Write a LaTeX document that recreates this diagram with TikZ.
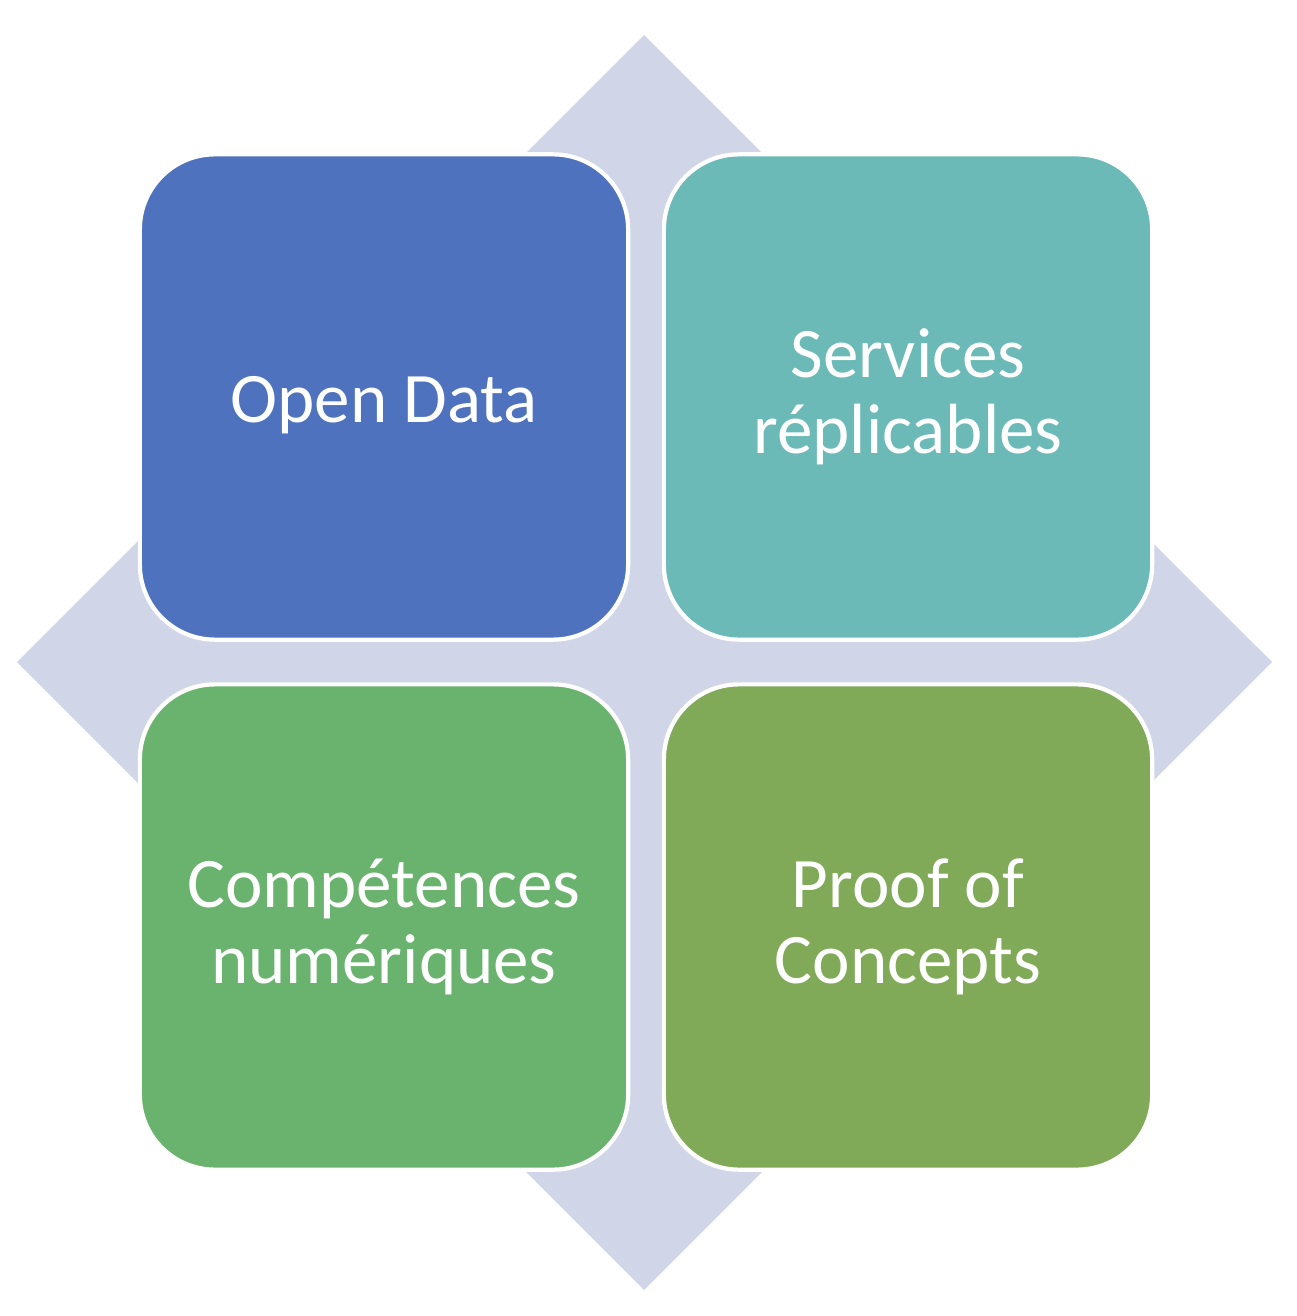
\documentclass[tikz,border=0pt]{standalone}
\usepackage{fontspec}
\setmainfont{Carlito}
\usetikzlibrary{positioning}
\definecolor{backdiam}{HTML}{D0D5E8}
\definecolor{blueq}{HTML}{4F72BE}
\definecolor{tealq}{HTML}{6BBAB7}
\definecolor{greenq}{HTML}{6AB36E}
\definecolor{oliveq}{HTML}{80AA58}
\begin{document}
\begin{tikzpicture}[x=0.01cm, y=-0.01cm, quad/.style={draw=white,line width=1.2pt,rounded corners=0.75cm,minimum width=4.88cm,minimum height=4.85cm,inner sep=0pt,text=white,align=center,font=\fontsize{20.2}{21.5}\selectfont}]
              \useasboundingbox (0,0) rectangle (1296,1316);
              % background diamond
              \fill[backdiam] (644,35) -- (1272,662) -- (644,1290) -- (17,662) -- cycle;

              \node[quad,fill=blueq] (od) at (384,397) {\raisebox{-0.25cm}[0pt][0pt]{Open Data}};
              \node[quad,fill=tealq] (sr) at (908,397) {Services\\réplicables};
              \node[quad,fill=greenq] (cn) at (384,927) {Compétences\\numériques};
              \node[quad,fill=oliveq] (pc) at (908,927) {Proof of\\Concepts};
            \end{tikzpicture}
\end{document}
